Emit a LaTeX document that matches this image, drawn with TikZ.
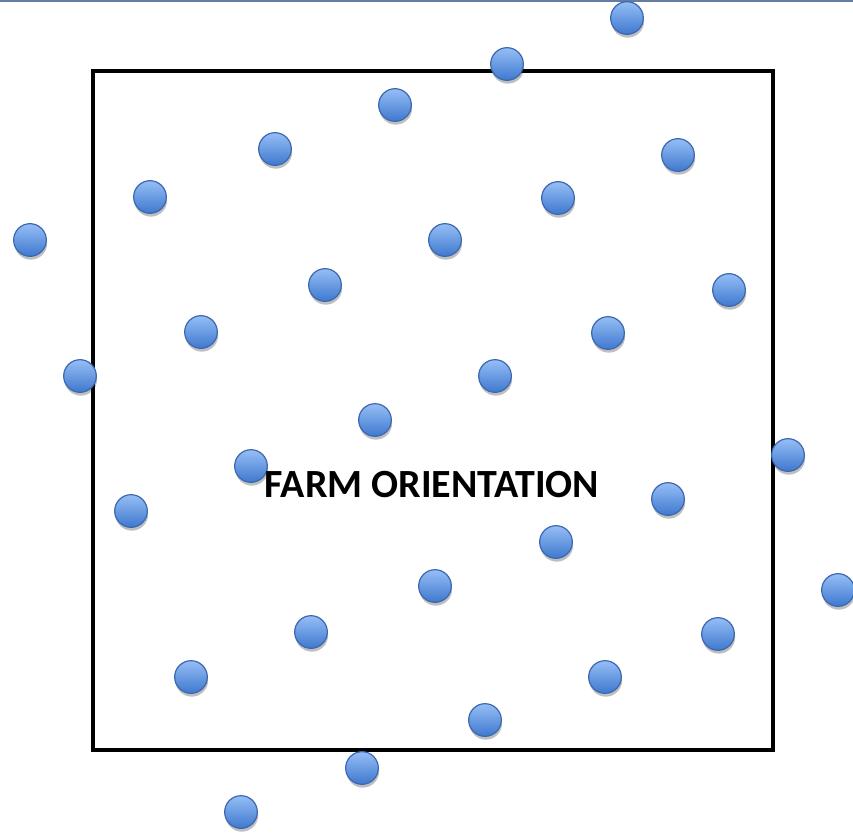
\documentclass[tikz,border=0pt]{standalone}
\usepackage{fontspec}
\setmainfont{Carlito}
\usetikzlibrary{shadows}
\definecolor{dotlight}{RGB}{150,190,246}
\definecolor{dotdark}{RGB}{62,120,206}
\definecolor{dotedge}{RGB}{60,104,176}
\definecolor{topline}{RGB}{98,124,162}
\begin{document}
\begin{tikzpicture}[x=0.75pt,y=-0.75pt,
  dot/.style={circle, draw=dotedge, line width=0.9pt, minimum size=24.5pt, inner sep=0pt,
    top color=dotlight, bottom color=dotdark,
    drop shadow={shadow xshift=0.6pt, shadow yshift=-2.5pt, opacity=0.25, fill=black}}]

  \useasboundingbox (0,0) rectangle (853,833);
  \draw[topline, line width=1.5pt] (0,1) -- (853,1);

  % farm boundary
  \draw[line width=3pt] (93,71) rectangle (773,750);

  % turbines
  \node[dot] (D1) at (627,18) {};
  \node[dot] (D2) at (507,64) {};
  \node[dot] (D3) at (395,105) {};
  \node[dot] (D4) at (275,149) {};
  \node[dot] (D5) at (150,197) {};
  \node[dot] (D6) at (30,240) {};

  \node[dot] (D7) at (678,155) {};
  \node[dot] (D8) at (558,198) {};
  \node[dot] (D9) at (445,240) {};
  \node[dot] (D10) at (325,285) {};
  \node[dot] (D11) at (201,332) {};
  \node[dot] (D12) at (80,376) {};

  \node[dot] (D13) at (729,290) {};
  \node[dot] (D14) at (608,333) {};
  \node[dot] (D15) at (495,376) {};
  \node[dot] (D16) at (375,420) {};
  \node[dot] (D17) at (251,466) {};
  \node[dot] (D18) at (131,511) {};

  \node[dot] (D19) at (788,455) {};
  \node[dot] (D20) at (668,499) {};
  \node[dot] (D21) at (556,542) {};
  \node[dot] (D22) at (435,586) {};
  \node[dot] (D23) at (311,632) {};
  \node[dot] (D24) at (191,677) {};

  \node[dot] (D25) at (838,590) {};
  \node[dot] (D26) at (718,634) {};
  \node[dot] (D27) at (605,677) {};
  \node[dot] (D28) at (485,720) {};
  \node[dot] (D29) at (362,768) {};
  \node[dot] (D30) at (241,812) {};

  \node[font=\bfseries\fontsize{30}{35}\selectfont] (title) at (432,485) {FARM ORIENTATION};

\end{tikzpicture}
\end{document}
